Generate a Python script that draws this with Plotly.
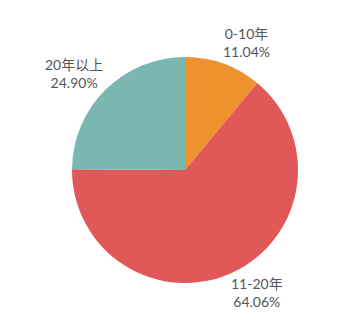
import math
import plotly.graph_objects as go

labels = ["0-10年", "11-20年", "20年以上"]
values = [11.04, 64.06, 24.90]
colors = ["#F0912F", "#E05858", "#7AB7B0"]

W, H = 351, 336
cx, cy, r = 185, 170, 113   # pie centre and radius in pixels
label_r = r * 1.2           # radial distance of label centre
label_dx = 15               # horizontal push away from pie

fig = go.Figure(go.Pie(
    labels=labels,
    values=values,
    sort=False,
    direction="clockwise",
    rotation=0,
    marker=dict(colors=colors, line=dict(width=0)),
    textinfo="none",
    showlegend=False,
    domain=dict(x=[(cx - r) / W, (cx + r) / W], y=[1 - (cy + r) / H, 1 - (cy - r) / H]),
    hoverinfo="label+percent",
))

total = sum(values)
cum = 0.0
for lab, v in zip(labels, values):
    mid = (cum + v / 2) / total * 2 * math.pi
    cum += v
    s, c = math.sin(mid), math.cos(mid)
    px = cx + label_r * s + (label_dx if s >= 0 else -label_dx)
    py = cy - label_r * c
    fig.add_annotation(
        x=px / W, y=1 - py / H, xref="paper", yref="paper",
        text=f"{lab}<br>{v / total * 100:.2f}%",
        showarrow=False, xanchor="center", yanchor="middle", align="center",
        font=dict(family="Lato, Noto Sans CJK SC", size=14, color="#555555"),
    )

fig.update_layout(
    width=W, height=H,
    margin=dict(l=0, r=0, t=0, b=0),
    paper_bgcolor="white",
    plot_bgcolor="white",
)
fig.write_html("out.html")
